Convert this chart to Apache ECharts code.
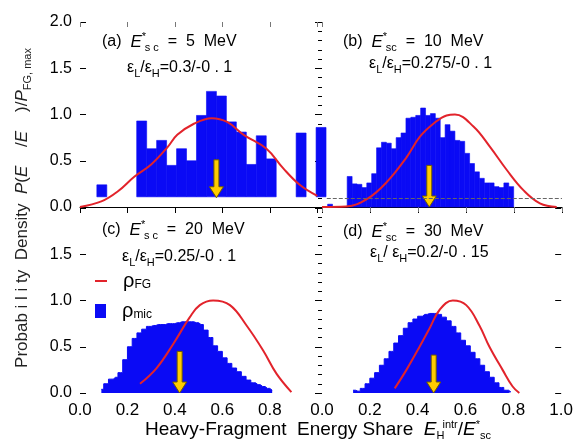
<!DOCTYPE html>
<html>
<head>
<meta charset="utf-8">
<script src="https://cdn.jsdelivr.net/npm/echarts@6.0.0/dist/echarts.min.js"></script>
<style>
  html, body { margin: 0; padding: 0; background: #fff; }
  #app { width: 576px; height: 443px; }
</style>
</head>
<body>
<div id="app"></div>
<script>
// (a) E*sc = 5 MeV : coarse histogram (bins 0.042 wide, floating on 0.11)
const aBinStart = 0.071;
const aBinWidth = 0.042;
const aBase = 0.11;
const aHist = [0.24, null, null, null, 0.93, 0.63, 0.72, 0.45, 0.63, 0.50, 0.99, 1.25,
  1.20, 0.92, 0.81, 0.46, 0.77, 0.52, null, null, 0.80, null, 0.86];
const aFgX = [0.0, 0.09, 0.16, 0.23, 0.30, 0.37, 0.41, 0.48, 0.555, 0.62, 0.69, 0.786, 0.856, 0.926, 1.0];
const aFgY = [0.0, 0.06, 0.17, 0.33, 0.46, 0.65, 0.78, 0.90, 0.96, 0.92, 0.78, 0.63, 0.42, 0.24, 0.12];

// (b) E*sc = 10 MeV
const bBinStart = 0.0234;
const bBinWidth = 0.0204;
const bHist = [0.03, null, null, null, 0.33, 0.25, 0.245, 0.21, 0.26, 0.36, 0.64, 0.70, 0.69,
  0.63, 0.75, 0.80, 0.96, 0.97, 0.99, 1.07, 0.99, 1.01, 0.96, 0.75, 0.89, 0.82, 0.72, 0.71,
  0.58, 0.47, 0.38, 0.31, 0.26, 0.26, 0.22, 0.21, 0.26, 0.22];
const bDotted = 0.09;
const bFgX = [0.0, 0.10, 0.19, 0.27, 0.353, 0.408, 0.464, 0.519, 0.554, 0.631, 0.70, 0.77, 0.84, 0.908, 0.978];
const bFgY = [0.0, 0.005, 0.09, 0.27, 0.54, 0.76, 0.90, 0.99, 1.0, 0.87, 0.65, 0.40, 0.18, 0.04, 0.0];

// (c) E*sc = 20 MeV : fine histogram, 0.02 steps
const cHistStart = 0.09;
const cHistStep = 0.02;
const cHist = [0.04, 0.10, 0.15, 0.17, 0.22, 0.36, 0.50, 0.59, 0.65, 0.69, 0.72, 0.73, 0.74,
  0.74, 0.75, 0.75, 0.76, 0.77, 0.77, 0.77, 0.76, 0.74, 0.68, 0.60, 0.51, 0.45, 0.38, 0.32,
  0.27, 0.23, 0.18, 0.14, 0.11, 0.09, 0.07, 0.05, 0.03];
const cFgX = [0.253, 0.323, 0.393, 0.463, 0.505, 0.561, 0.632, 0.702, 0.772, 0.828, 0.891];
const cFgY = [0.10, 0.27, 0.53, 0.82, 0.95, 1.0, 0.95, 0.73, 0.46, 0.21, 0.01];

// (d) E*sc = 30 MeV
const dHistStart = 0.13;
const dHistStep = 0.02;
const dHist = [0.03, 0.02, 0.05, 0.10, 0.16, 0.22, 0.30, 0.37, 0.45, 0.54, 0.62, 0.70, 0.76,
  0.80, 0.83, 0.85, 0.86, 0.86, 0.85, 0.82, 0.78, 0.72, 0.65, 0.57, 0.51, 0.44, 0.37, 0.30,
  0.23, 0.17, 0.11, 0.06, 0.03, 0.01];
const dFgX = [0.304, 0.353, 0.408, 0.45, 0.492, 0.547, 0.603, 0.658, 0.70, 0.755, 0.797, 0.825];
const dFgY = [0.05, 0.25, 0.50, 0.70, 0.90, 1.0, 0.95, 0.73, 0.50, 0.25, 0.07, 0.0];

// yellow arrows: x, top, tip
const arrowX = [0.575, 0.447, 0.42, 0.467];
const arrowTop = [0.51, 0.45, 0.45, 0.41];
const arrowTip = [0.10, 0.0, 0.0, 0.0];

const font = "'Liberation Sans', Arial, sans-serif";
const blue = '#0a0af5';
const red = '#e2232b';
const clear = 'rgba(0,0,0,0)';

const chart = echarts.init(document.getElementById('app'));

const pairs = (xs, ys) => xs.map((x, i) => [x, ys[i]]);
const bins = (start, w, vals) => {
  const out = [];
  vals.forEach((v, k) => { if (v !== null) out.push([start + k * w, v]); });
  return out;
};
const steps = (start, w, vals) => vals.map((v, k) => [start + k * w, v]);

const histItem = (w, base) => (params, api) => {
  const x = api.value(0);
  const p0 = api.coord([x, base]);
  const p1 = api.coord([x + w, api.value(1)]);
  return {
    type: 'rect',
    shape: { x: p0[0], y: p1[1], width: p1[0] - p0[0], height: p0[1] - p1[1] },
    style: { fill: blue, stroke: blue, lineWidth: 0.6 }
  };
};

const arrowItem = (params, api) => {
  const top = api.coord([api.value(0), api.value(1)]);
  const tip = api.coord([api.value(0), api.value(2)]);
  const x = top[0];
  const yh = tip[1] - 11;
  return {
    type: 'polygon',
    shape: { points: [[x - 2.5, top[1]], [x + 2.5, top[1]], [x + 2.5, yh], [x + 7, yh],
      [x, tip[1]], [x - 7, yh], [x - 2.5, yh]] },
    style: { fill: '#ffcc00', stroke: '#6e5c00', lineWidth: 1 }
  };
};

const fgLine = (name, xi, xs, ys) => ({
  name: name, type: 'line', xAxisIndex: xi, yAxisIndex: xi,
  data: pairs(xs, ys), smooth: 0.4, symbol: 'none',
  lineStyle: { color: red, width: 2 }, itemStyle: { color: red }, z: 3
});

const arrow = (i) => ({
  type: 'custom', xAxisIndex: i, yAxisIndex: i, renderItem: arrowItem,
  data: [[arrowX[i], arrowTop[i], arrowTip[i]]], z: 4
});

const stepArea = (name, xi, data) => ({
  name: name, type: 'line', xAxisIndex: xi, yAxisIndex: xi, data: data,
  step: 'middle', symbol: 'none',
  lineStyle: { color: blue, width: 1 }, itemStyle: { color: blue },
  areaStyle: { color: blue, opacity: 1 }, z: 2
});

const grids = [
  { left: 80, top: 22, width: 242, height: 185 },
  { left: 322, top: 22, width: 240, height: 185 },
  { left: 80, top: 208, width: 242, height: 185 },
  { left: 322, top: 208, width: 240, height: 185 }
];

const bottomX = (i, opts) => Object.assign({
  type: 'value', gridIndex: i, min: 0, max: i % 2 === 0 ? 1.02 : 1, interval: 0.2,
  splitLine: { show: false },
  axisLine: { show: true, lineStyle: { color: clear } },
  axisTick: { show: false }, axisLabel: { show: false }
}, opts);

const xLabel = {
  show: true, fontSize: 17, fontFamily: font, color: '#000', margin: 9,
  formatter: (v) => v > 1.001 ? '' : v.toFixed(1)
};
const topTick = { show: true, inside: true, length: 5, lineStyle: { color: '#777' } };

const xAxes = [
  bottomX(0, { axisLine: { show: true, lineStyle: { color: '#000', width: 1 } },
    axisTick: { show: true, length: 6, lineStyle: { color: '#000' } } }),
  bottomX(1, { axisLine: { show: true, lineStyle: { color: '#000', width: 1 } },
    axisTick: { show: true, length: 6, lineStyle: { color: '#000' } } }),
  bottomX(2, { axisLabel: Object.assign({}, xLabel, { formatter: (v) => v > 0.9 ? '' : v.toFixed(1) }) }),
  bottomX(3, { axisLabel: xLabel }),
  bottomX(0, { position: 'top', axisTick: topTick }),
  bottomX(1, { position: 'top', axisTick: topTick })
];

const yBase = (i, opts) => Object.assign({
  type: 'value', gridIndex: i, min: 0, max: 2, interval: 0.5,
  splitLine: { show: false },
  axisLine: { show: true, lineStyle: { color: clear } },
  axisLabel: { show: false }, axisTick: { show: false }
}, opts);

const yLabel = {
  show: true, fontSize: 16, fontFamily: font, color: '#000', margin: 8,
  formatter: (v) => v.toFixed(1)
};
const leftTick = { show: true, inside: true, length: 6, lineStyle: { color: '#000' } };
const denseTick = { axisTick: { show: true, length: 7, lineStyle: { color: '#000' } },
  minorTick: { show: true, splitNumber: 5, length: 4, lineStyle: { color: '#000' } } };
const rightTick = { position: 'right',
  axisTick: { show: true, inside: true, length: 6, lineStyle: { color: '#000' } } };

const yAxes = [
  yBase(0, { axisLabel: yLabel, axisTick: leftTick }),
  yBase(1, denseTick),
  yBase(2, { axisLabel: Object.assign({}, yLabel, { formatter: (v) => v > 1.9 ? '' : v.toFixed(1) }),
    axisTick: leftTick }),
  yBase(3, denseTick),
  yBase(1, rightTick),
  yBase(3, rightTick)
];

const txt = (size, extra) => Object.assign({ fontSize: size, fontFamily: font,
  fontWeight: 'normal', color: '#000' }, extra);
const rich16 = {
  e: txt(17, { fontStyle: 'italic', lineHeight: 22 }),
  sup: txt(11, { verticalAlign: 'top', lineHeight: 11, width: 3 }),
  sub: txt(11, { verticalAlign: 'bottom', lineHeight: 11 }),
  s: txt(11, { verticalAlign: 'bottom', lineHeight: 11 }),
  n: txt(16, { lineHeight: 22 })
};
const titleAt = (text, left, top) => ({
  text: text, left: left, top: top, padding: 0,
  textStyle: txt(16, { lineHeight: 22, rich: rich16 })
});

const legendBase = {
  orient: 'vertical', left: 95, padding: 0, selectedMode: false,
  formatter: (n) => n === 'ρFG' ? '{r|ρ}{s|FG}' : '{r|ρ}{s|mic}',
  textStyle: {
    padding: [0, 0, 0, 11],
    rich: {
      r: txt(20, { lineHeight: 20 }),
      s: txt(12, { verticalAlign: 'bottom', lineHeight: 12 })
    }
  }
};

const option = {
  animation: false,
  backgroundColor: '#fff',
  grid: grids,
  xAxis: xAxes,
  yAxis: yAxes,
  title: [
    titleAt('{n|(a)  }{e|E}{sup|*}{sub|s c}{n|  =  5  MeV}', 102, 31),
    titleAt('{n|ε}{s|L}{n|/ε}{s|H}{n|=0.3/-0 . 1}', 127, 57),
    titleAt('{n|(b)  }{e|E}{sup|*}{sub|sc}{n|  =  10  MeV}', 343, 31),
    titleAt('{n|ε}{s|L}{n|/ε}{s|H}{n|=0.275/-0 . 1}', 369, 53),
    titleAt('{n|(c)  }{e|E}{sup|*}{sub|s c}{n|  =  20  MeV}', 102, 219),
    titleAt('{n|ε}{s|L}{n|/ε}{s|H}{n|=0.25/-0 . 1}', 122, 246),
    titleAt('{n|(d)  }{e|E}{sup|*}{sub|sc}{n|  =  30  MeV}', 343, 221),
    titleAt('{n|ε}{s|L}{n|/ ε}{s|H}{n|=0.2/-0 . 15}', 370, 242),
    {
      text: '{n|Heavy-Fragment  Energy Share  }{e|E}{sub|H}{sup|intr}{n|/}{e|E}{sup|*}{sub|sc}',
      left: 145, top: 419, padding: 0,
      textStyle: txt(19, { lineHeight: 22,
        rich: {
          n: txt(19, { lineHeight: 22 }),
          e: txt(19, { fontStyle: 'italic', lineHeight: 22 }),
          sup: txt(11, { verticalAlign: 'top', lineHeight: 11 }),
          sub: txt(11, { verticalAlign: 'bottom', lineHeight: 11, width: 6 })
        } })
    }
  ],
  graphic: [{
    type: 'text', x: 22, y: 208, rotation: Math.PI / 2,
    style: {
      text: '{n|Probab i l i ty  Density  }{i|P}{n|(}{i|E}{n|    /}{i|E}{n|    )/}{i|P}{s|FG, max}',
      align: 'center', verticalAlign: 'middle', fill: '#222',
      rich: {
        n: { fontSize: 17, fontFamily: font, fill: '#222', lineHeight: 22 },
        i: { fontSize: 17, fontFamily: font, fontStyle: 'italic', fill: '#222', lineHeight: 22 },
        s: { fontSize: 11, fontFamily: font, fill: '#222', verticalAlign: 'bottom', lineHeight: 11 }
      }
    }
  }],
  legend: [
    Object.assign({}, legendBase, { data: [{ name: 'ρFG', icon: 'rect' }], top: 271,
      itemWidth: 12, itemHeight: 2 }),
    Object.assign({}, legendBase, { data: [{ name: 'ρmic', icon: 'rect' }], top: 301,
      itemWidth: 11, itemHeight: 14 })
  ],
  series: [
    { type: 'custom', xAxisIndex: 0, yAxisIndex: 0, renderItem: histItem(aBinWidth, aBase),
      data: bins(aBinStart, aBinWidth, aHist), z: 2 },
    fgLine('a-fg', 0, aFgX, aFgY),
    arrow(0),
    { type: 'custom', xAxisIndex: 1, yAxisIndex: 1, renderItem: histItem(bBinWidth, 0),
      data: bins(bBinStart, bBinWidth, bHist), z: 2,
      markLine: { silent: true, symbol: 'none', label: { show: false },
        lineStyle: { type: 'dashed', color: '#666', width: 1 },
        data: [[{ coord: [0.02, bDotted] }, { coord: [1.0, bDotted] }]] } },
    fgLine('b-fg', 1, bFgX, bFgY),
    arrow(1),
    stepArea('ρmic', 2, steps(cHistStart, cHistStep, cHist)),
    fgLine('ρFG', 2, cFgX, cFgY),
    arrow(2),
    stepArea('d-mic', 3, steps(dHistStart, dHistStep, dHist)),
    fgLine('d-fg', 3, dFgX, dFgY),
    arrow(3)
  ]
};

chart.setOption(option);
</script>
</body>
</html>
